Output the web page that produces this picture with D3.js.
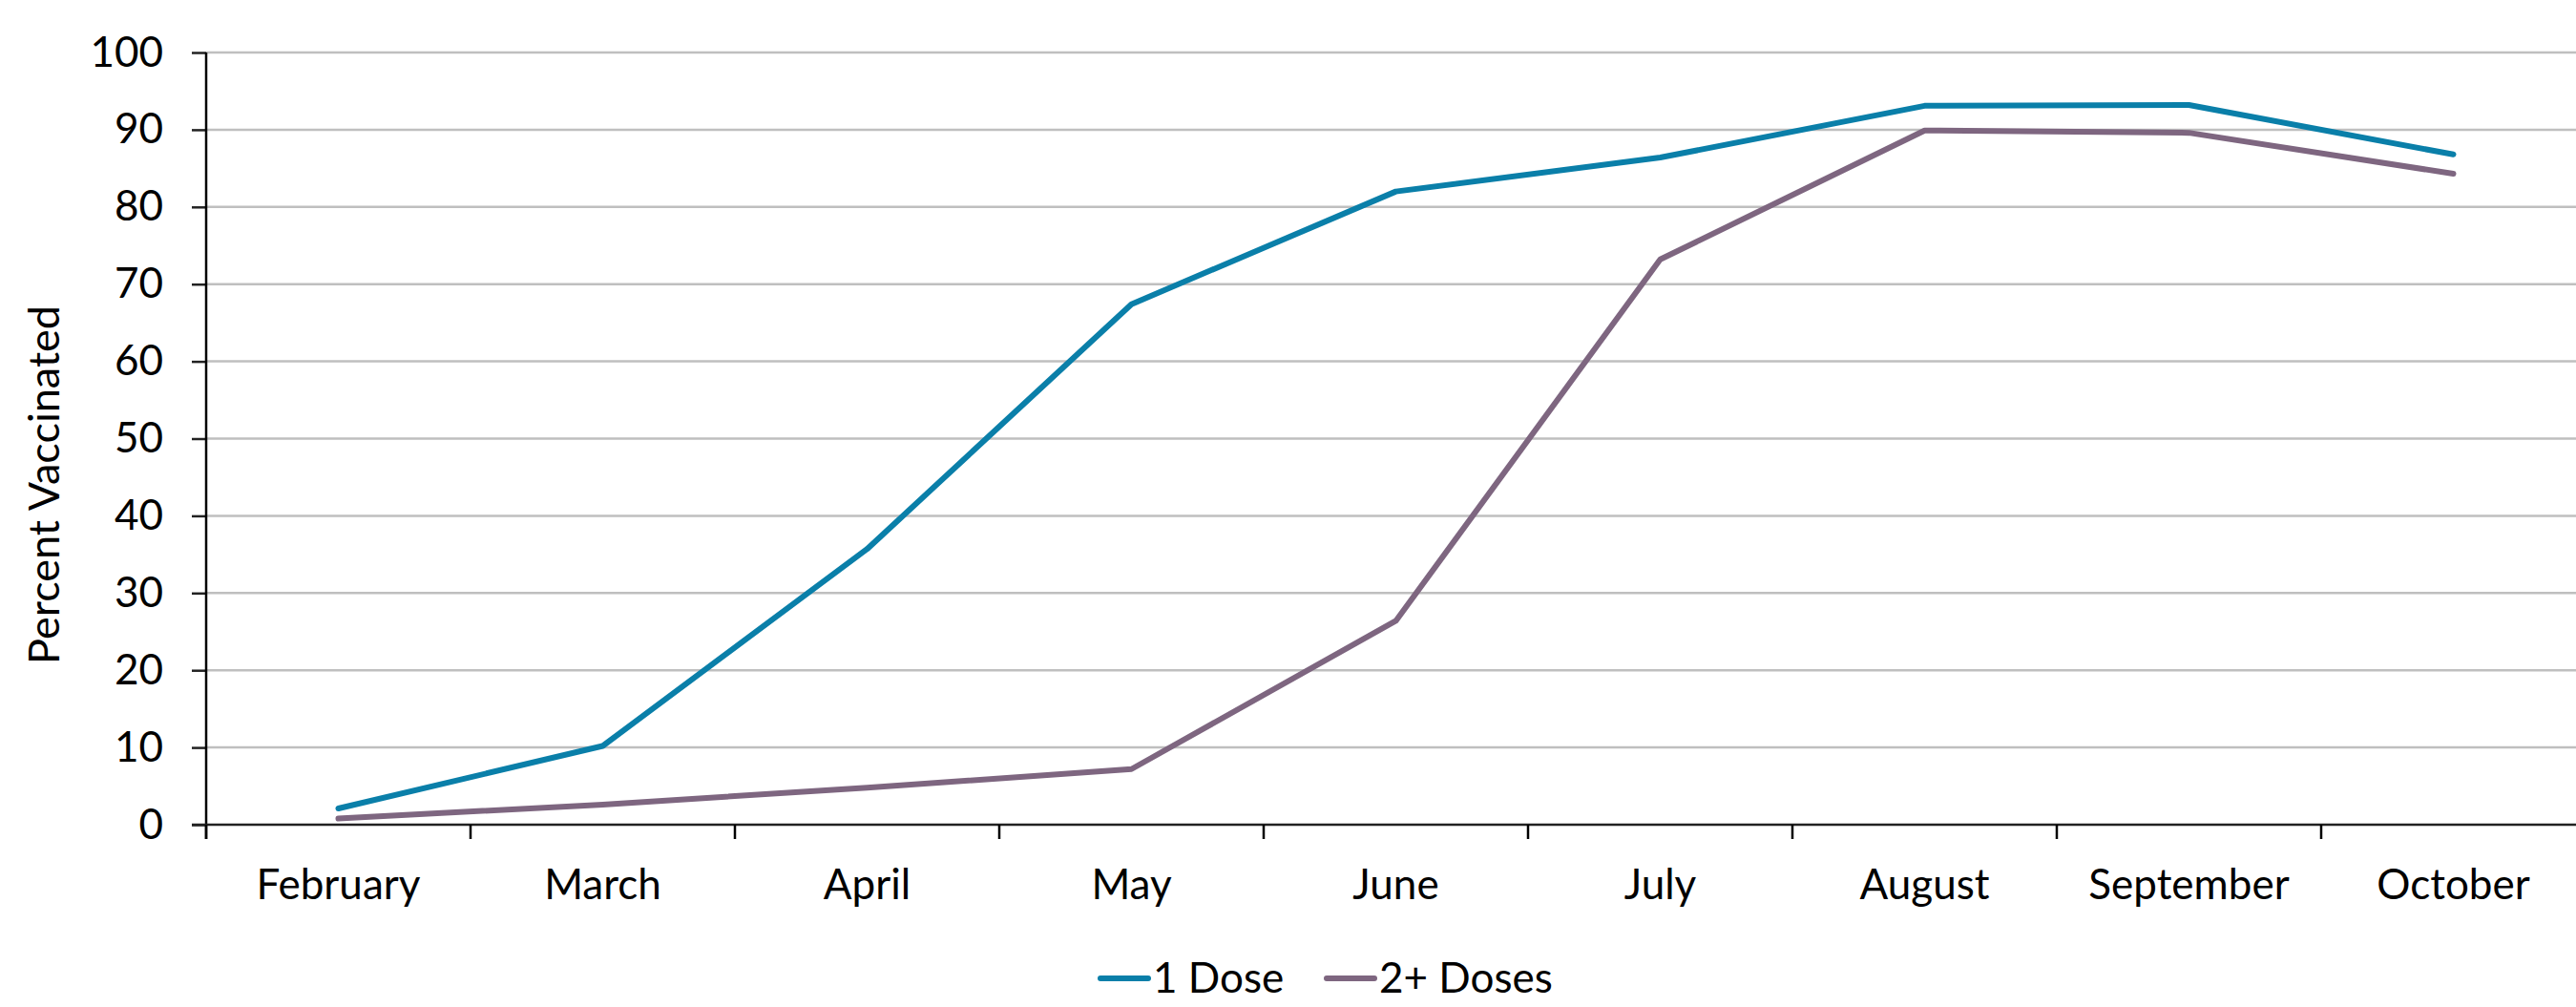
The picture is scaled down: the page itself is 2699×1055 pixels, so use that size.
<!DOCTYPE html>
<html><head><meta charset="utf-8">
<script src="https://cdn.jsdelivr.net/npm/d3@7"></script>
<style>html,body{margin:0;padding:0;background:#fff;overflow:hidden}</style>
</head><body>
<script>
const months = ["February","March","April","May","June","July","August","September","October"];
const oneDose = [2.1, 10.2, 35.7, 67.4, 82.0, 86.4, 93.1, 93.2, 86.8];
const twoDoses = [0.8, 2.6, 4.8, 7.2, 26.4, 73.2, 89.9, 89.6, 84.3];
const yTicks = [0,10,20,30,40,50,60,70,80,90,100];
const seriesNames = ["1 Dose","2+ Doses"];
const colors = ["#0a7fa9","#7e6680"];

const W = 2699, H = 1055;
const font = "Lato, 'Open Sans', sans-serif";
const fs = 44;
const svg = d3.select("body").append("svg").attr("width",W).attr("height",H)
  .style("font-family",font);

const mLeft = 216, mTop = 55, mBottom = 864, mRight = 2709;
const x = d3.scaleBand().domain(months).range([mLeft,mRight]);
const y = d3.scaleLinear().domain([0,100]).range([mBottom,mTop]);

// gridlines
svg.append("g").selectAll("line").data(yTicks.filter(d=>d>0)).join("line")
  .attr("x1",mLeft).attr("x2",W).attr("y1",d=>y(d)).attr("y2",d=>y(d))
  .attr("stroke","#bfbfbf").attr("stroke-width",2.5);

// y axis
const yAxis = d3.axisLeft(y).tickValues(yTicks).tickSize(15).tickPadding(30).tickFormat(d3.format("d"));
const gy = svg.append("g").attr("transform",`translate(${mLeft},0)`).call(yAxis);
gy.select(".domain").remove();
gy.selectAll(".tick line").attr("stroke","#222").attr("stroke-width",2.5);
gy.selectAll(".tick text").attr("font-size",fs).attr("fill","#000").attr("font-family",font);
svg.append("line").attr("x1",mLeft).attr("x2",mLeft).attr("y1",mTop).attr("y2",mBottom+15)
  .attr("stroke","#000").attr("stroke-width",2.5);

// x axis
const boundaries = months.map(m=>x(m)).concat([mRight]);
svg.append("line").attr("x1",mLeft-15).attr("x2",W).attr("y1",mBottom).attr("y2",mBottom)
  .attr("stroke","#222").attr("stroke-width",2.5);
svg.append("g").selectAll("line").data(boundaries).join("line")
  .attr("x1",d=>d).attr("x2",d=>d).attr("y1",mBottom).attr("y2",mBottom+15)
  .attr("stroke","#000").attr("stroke-width",2.5);
svg.append("g").selectAll("text").data(months).join("text")
  .attr("x",d=>x(d)+x.bandwidth()/2).attr("y",mBottom+78)
  .attr("text-anchor","middle").attr("font-size",fs).attr("fill","#000").text(d=>d);

// y label
svg.append("text").attr("transform",`translate(62,508) rotate(-90)`)
  .attr("text-anchor","middle").attr("font-size",45).attr("fill","#000").text("Percent Vaccinated");

// lines
const line = d3.line().x((d,i)=>x(months[i])+x.bandwidth()/2).y(d=>y(d));
[oneDose,twoDoses].forEach((s,i)=>{
  svg.append("path").datum(s).attr("d",line).attr("fill","none")
    .attr("stroke",colors[i]).attr("stroke-width",6)
    .attr("stroke-linejoin","round").attr("stroke-linecap","round");
});

// legend
const lg = svg.append("g");
const legendItems = [{x:1153,name:seriesNames[0],c:colors[0]},{x:1390,name:seriesNames[1],c:colors[1]}];
legendItems.forEach(it=>{
  lg.append("line").attr("x1",it.x).attr("x2",it.x+50).attr("y1",1025).attr("y2",1025)
    .attr("stroke",it.c).attr("stroke-width",6).attr("stroke-linecap","round");
  lg.append("text").attr("x",it.x+55).attr("y",1040).attr("font-size",fs).attr("fill","#000").text(it.name);
});
</script>
</body></html>
